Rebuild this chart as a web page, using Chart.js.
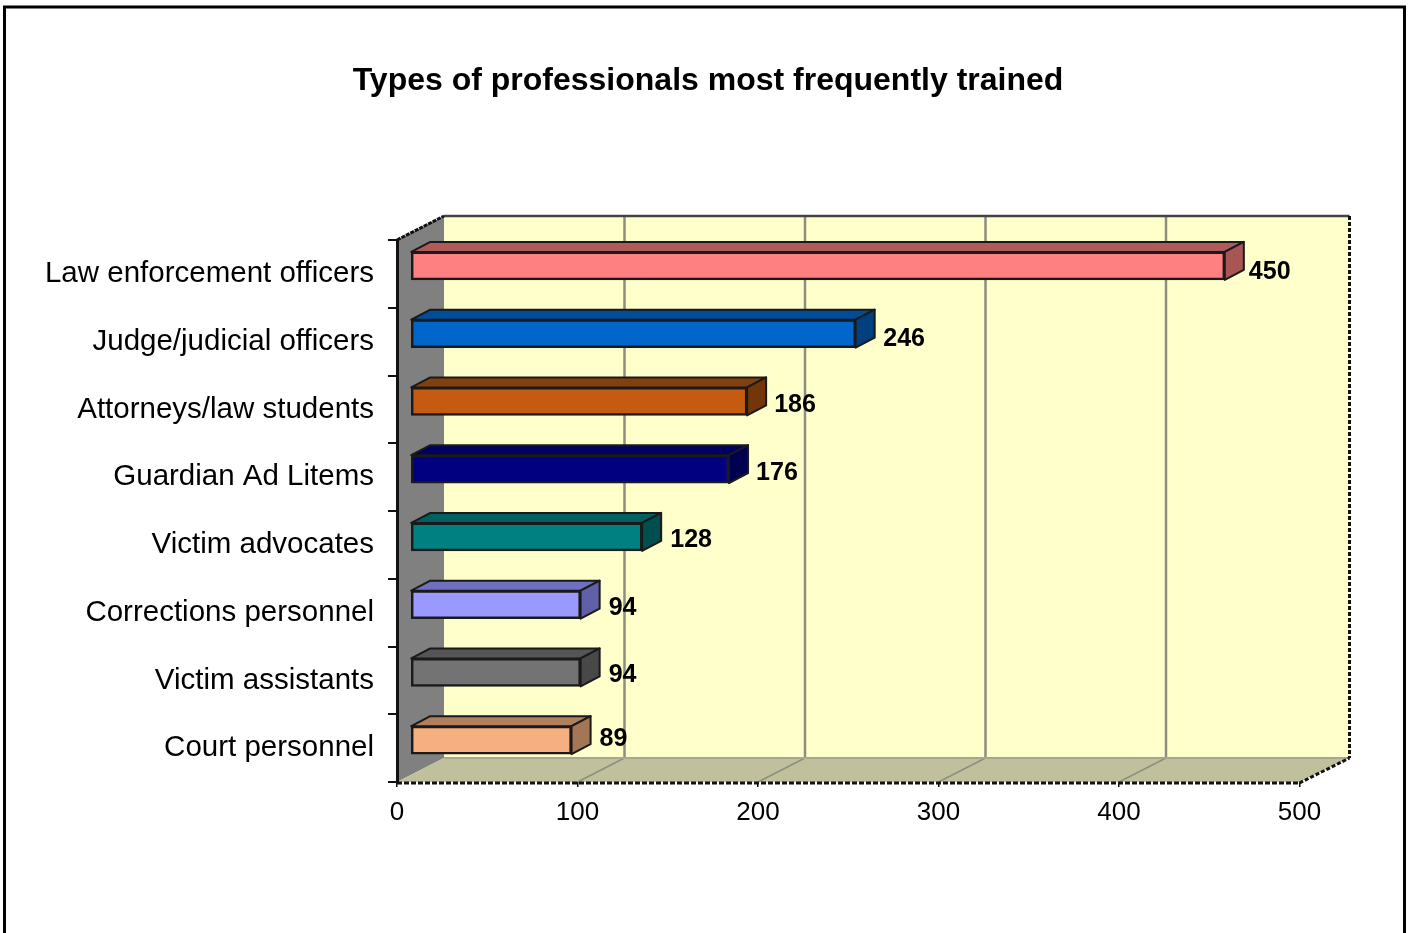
<!DOCTYPE html>
<html>
<head>
<meta charset="utf-8">
<style>html,body{margin:0;padding:0;background:#fff}canvas{display:block}</style>
<script src="https://cdn.jsdelivr.net/npm/chart.js@4/dist/chart.umd.min.js"></script>
</head>
<body>
<canvas id="c" width="1408" height="933"></canvas>
<script>
const categories = ["Law enforcement officers","Judge/judicial officers","Attorneys/law students","Guardian Ad Litems","Victim advocates","Corrections personnel","Victim assistants","Court personnel"];
const values = [450,246,186,176,128,94,94,89];
const frontColors = ["#FF8080","#0066CC","#C55A11","#000080","#008080","#9999FF","#737373","#F5AF80"];
const topColors = ["#B25A5A","#004C99","#84400C","#000060","#005F5F","#6F6FC0","#555555","#B07F5E"];
const sideColors = ["#A85555","#004080","#733609","#000050","#004F4F","#6060A8","#484848","#A37655"];
const tickValues = [0,100,200,300,400,500];
const titleText = "Types of professionals most frequently trained";

const labelNudgeX = [-3,0.5,0,0,1,1,1,1];
const labelNudgeY = [4,3,2,2,1,1,1,-3];
const WALL = {dx:47, dy:-24, rightExtra:3};
const BAR = {dx:13.5, dy:-8, depthX:19, depthY:-10, stretch:1.0025};
const FONT = '"Liberation Sans", Arial, sans-serif';

function poly(ctx, pts, fill, stroke, lw){
  ctx.save();
  ctx.beginPath();
  pts.forEach((p,i)=> i?ctx.lineTo(p[0],p[1]):ctx.moveTo(p[0],p[1]));
  ctx.closePath();
  if(fill){ctx.fillStyle=fill;ctx.fill();}
  if(stroke){ctx.strokeStyle=stroke;ctx.lineWidth=lw||1;ctx.lineJoin='round';ctx.stroke();}
  ctx.restore();
}
function seg(ctx,x1,y1,x2,y2,c,lw,dash){
  ctx.save();ctx.beginPath();ctx.moveTo(x1,y1);ctx.lineTo(x2,y2);
  ctx.strokeStyle=c;ctx.lineWidth=lw;if(dash)ctx.setLineDash(dash);ctx.stroke();ctx.restore();
}

const box3d = {
  id:'box3d',
  beforeDraw(chart){
    const {ctx,chartArea:a,scales:{x}} = chart;
    const L=a.left,R=a.right,T=a.top,B=a.bottom,dx=WALL.dx,dy=WALL.dy,RB=R+dx+WALL.rightExtra;
    ctx.save();
    ctx.fillStyle='#fff';ctx.fillRect(0,0,chart.width,chart.height);
    ctx.strokeStyle='#000';ctx.lineWidth=3;ctx.strokeRect(4.5,7,1400,1000);
    poly(ctx,[[L+dx,T+dy],[RB,T+dy],[RB,B+dy],[L+dx,B+dy]],'#FFFFCC');
    poly(ctx,[[L,T],[L+dx,T+dy],[L+dx,B+dy],[L,B]],'#808080');
    poly(ctx,[[L,B],[L+dx,B+dy],[RB,B+dy],[R,B]],'#C0C09C');
    tickValues.forEach(v=>{
      const px=x.getPixelForValue(v);
      if(v>0 && v<500){
        seg(ctx,px+dx,T+dy,px+dx,B+dy,'#8E8E80',2.5);
        seg(ctx,px,B,px+dx,B+dy,'#8E8E80',1.5);
      }
    });
    seg(ctx,L+dx,B+dy,RB,B+dy,'#A8A890',2);
    seg(ctx,L+dx,T+dy,RB,T+dy,'#444',2.5);
    seg(ctx,L,T,L+dx,T+dy,'#111',3,[4,1]);
    seg(ctx,RB,T+dy,RB,B+dy,'#111',3,[4,2]);
    seg(ctx,R,B+1,RB,B+dy,'#111',3,[4,2]);
    seg(ctx,L,B+1,R,B+1,'#111',3,[5,2]);
    ctx.restore();
  },
  beforeDatasetsDraw(chart){
    const {ctx,chartArea:a}=chart;
    ctx.save();
    ctx.translate(a.left+BAR.dx,BAR.dy);
    ctx.scale(BAR.stretch,1);
    ctx.translate(-a.left,0);
    chart.getDatasetMeta(0).data.forEach((el,i)=>{
      const {x,y,base,height}=el.getProps(['x','y','base','height'],true);
      const t=y-height/2,b=y+height/2,dx=BAR.depthX,dy=BAR.depthY;
      poly(ctx,[[base,t],[base+dx,t+dy],[x+dx,t+dy],[x,t]],topColors[i],'#1a1a1a',2);
      poly(ctx,[[x,t],[x+dx,t+dy],[x+dx,b+dy],[x,b]],sideColors[i],'#1a1a1a',2);
    });
  },
  afterDatasetsDraw(chart){
    const {ctx}=chart;
    ctx.font='bold 25px '+FONT;
    ctx.fillStyle='#000';
    ctx.textBaseline='middle';
    ctx.textAlign='left';
    chart.getDatasetMeta(0).data.forEach((el,i)=>{
      ctx.fillText(String(values[i]),el.x+27+labelNudgeX[i],el.y+2+labelNudgeY[i]);
    });
    ctx.restore();
  }
};

new Chart(document.getElementById('c'),{
  type:'bar',
  data:{labels:categories,datasets:[{
    data:values,
    backgroundColor:frontColors,
    borderColor:'#1a1a1a',
    borderWidth:2.5,
    borderSkipped:false,
    barThickness:28
  }]},
  plugins:[box3d],
  options:{
    indexAxis:'y',
    responsive:false,
    devicePixelRatio:1,
    animation:false,
    layout:{padding:{left:8,right:0,top:0,bottom:0}},
    plugins:{
      legend:{display:false},
      tooltip:{enabled:false},
      title:{display:true,text:titleText,color:'#000',
        font:{family:FONT,size:32,weight:'bold',lineHeight:1.2},
        padding:{top:62,bottom:139.6}}
    },
    scales:{
      x:{
        min:0,max:500,
        afterBuildTicks(s){s.ticks=tickValues.map(v=>({value:v}));},
        afterFit(s){s.height=151;},
        grid:{drawOnChartArea:false,drawTicks:true,tickLength:5,color:'#111',lineWidth:1.5},
        border:{display:false},
        ticks:{color:'#000',font:{family:FONT,size:26},padding:10,maxRotation:0,autoSkip:false}
      },
      y:{
        afterFit(s){s.width=389;},
        grid:{drawOnChartArea:false,drawTicks:true,tickLength:9,color:'#111',lineWidth:2},
        border:{display:true,color:'#111',width:3},
        ticks:{color:'#000',font:{family:FONT,size:29.5},padding:14,autoSkip:false}
      },
      rightMargin:{
        axis:'y',type:'linear',position:'right',
        afterFit(s){s.width=108.5;},
        grid:{display:false},border:{display:false},ticks:{display:false}
      }
    }
  }
});
</script>
</body>
</html>
